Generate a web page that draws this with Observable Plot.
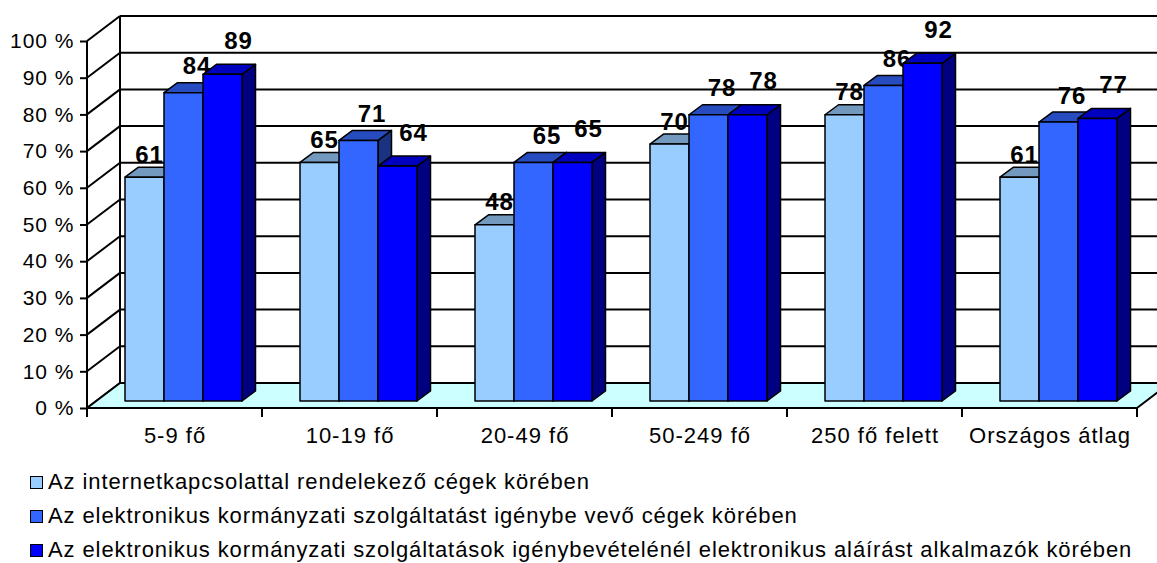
<!DOCTYPE html>
<html>
<head>
<meta charset="utf-8">
<script src="https://cdn.jsdelivr.net/npm/d3@7"></script>
<script src="https://cdn.jsdelivr.net/npm/@observablehq/plot@0.6"></script>
<style>
  html, body { margin: 0; padding: 0; background: #fff; }
  #chart { position: relative; width: 1157px; height: 563px; font-family: "Liberation Sans", Arial, sans-serif; color: #000; }
  #chart svg { display: block; }
  #chart svg text { letter-spacing: 1px; }
  .legend { position: absolute; left: 30px; top: 465px; font-size: 22px; letter-spacing: 0.9px; line-height: 34px; white-space: nowrap; }
  .legend .sw { display: inline-block; width: 11px; height: 11px; border: 1.5px solid #000; margin-right: 5px; }
</style>
</head>
<body>
<div id="chart"></div>
<script>
// ---- data ----
const categories = ["5-9 fő", "10-19 fő", "20-49 fő", "50-249 fő", "250 fő felett", "Országos átlag"];
const seriesNames = [
  "Az internetkapcsolattal rendelekező cégek körében",
  "Az elektronikus kormányzati szolgáltatást igénybe vevő cégek körében",
  "Az elektronikus kormányzati szolgáltatások igénybevételénél elektronikus aláírást alkalmazók körében"
];
const internetValues = [61, 65, 48, 70, 78, 61];
const egovValues = [84, 71, 65, 78, 86, 76];
const esignValues = [89, 64, 65, 78, 92, 77];
const yTicks = [0, 10, 20, 30, 40, 50, 60, 70, 80, 90, 100];

// ---- styles ----
const seriesValues = [internetValues, egovValues, esignValues];
const frontColors = ["#99CCFF", "#3366FF", "#0000FF"];
const topColors = ["#7399BF", "#264CBF", "#0000BF"];
const sideColors = ["#4C667F", "#1A3380", "#000080"];
const FONT = '"Liberation Sans", Arial, sans-serif';

// 3D geometry (pixel offsets)
const DX = 33, DY = -25;      // full depth of the floor / walls
const PX = 9, PY = -7;        // bar front plane
const TX = 13.5, TY = -10;    // bar depth
const INSET = 29, BARW = 39;  // bar placement inside a category band
const labelDx = [4.5, 13, 15.5];
const labelAbove = [15, 19, 26];

const rows = [];
seriesValues.forEach((vals, s) => vals.forEach((v, c) => rows.push({s, cat: categories[c], value: v})));

function background(index, {x, y}) {
  const g = d3.create("svg:g").attr("fill", "none").attr("stroke", "#000");
  const bw = x(categories[1]) - x(categories[0]);
  const x0 = x(categories[0]);
  const x1 = x(categories[categories.length - 1]) + bw;
  const y0 = y(0);
  // back wall fill
  g.append("rect").attr("x", x0 + DX).attr("y", y(100) + DY).attr("width", x1 - x0).attr("height", y0 - y(100))
    .attr("fill", "#fff").attr("stroke", "none");
  // back gridlines
  for (const t of yTicks) {
    g.append("line").attr("x1", x0 + DX).attr("x2", x1 + DX + 40)
      .attr("y1", y(t) + DY).attr("y2", y(t) + DY).attr("stroke-width", 2);
  }
  // back wall left edge
  g.append("line").attr("x1", x0 + DX).attr("x2", x0 + DX).attr("y1", y(100) + DY).attr("y2", y0 + DY).attr("stroke-width", 2);
  // side wall diagonals
  for (const t of yTicks) {
    g.append("line").attr("x1", x0).attr("y1", y(t)).attr("x2", x0 + DX).attr("y2", y(t) + DY).attr("stroke-width", 2);
  }
  // floor
  g.append("path").attr("d", `M${x0},${y0}L${x1},${y0}L${x1 + DX},${y0 + DY}L${x0 + DX},${y0 + DY}Z`)
    .attr("fill", "#CCFFFF").attr("stroke-width", 2).attr("stroke-linejoin", "round");
  // front value axis line
  g.append("line").attr("x1", x0).attr("x2", x0).attr("y1", y(100)).attr("y2", y0 + 9).attr("stroke-width", 2);
  // category boundary ticks
  for (let k = 1; k <= categories.length; k++) {
    const xx = x0 + k * bw;
    g.append("line").attr("x1", xx).attr("x2", xx).attr("y1", y0).attr("y2", y0 + 9).attr("stroke-width", 2);
  }
  return g.node();
}

function bars(s) {
  return (index, {x, y}) => {
    const g = d3.create("svg:g").attr("stroke", "#000").attr("stroke-width", 1.5).attr("stroke-linejoin", "round");
    seriesValues[s].forEach((v, c) => {
      const left = x(categories[c]) + PX + INSET + s * BARW;
      const right = left + BARW;
      const top = y(v) + PY;
      const bottom = y(0) + PY;
      g.append("path").attr("fill", sideColors[s])
        .attr("d", `M${right},${top}L${right + TX},${top + TY}L${right + TX},${bottom + TY}L${right},${bottom}Z`);
      g.append("path").attr("fill", topColors[s])
        .attr("d", `M${left},${top}L${right},${top}L${right + TX},${top + TY}L${left + TX},${top + TY}Z`);
      g.append("rect").attr("fill", frontColors[s])
        .attr("x", left).attr("y", top).attr("width", BARW).attr("height", bottom - top);
    });
    return g.node();
  };
}

const marks = [background];
for (let s = 0; s < 3; s++) {
  marks.push(bars(s));
  marks.push(Plot.text(rows.filter(d => d.s === s), {
    x: "cat", y: "value", text: d => String(d.value),
    dx: -30 + BARW * s + labelDx[s], dy: PY - labelAbove[s],
    lineAnchor: "bottom", textAnchor: "middle",
    fontSize: 24, fontWeight: "bold", fill: "#000"
  }));
}
marks.push(Plot.axisY(yTicks, {
  tickFormat: d => `${d} %`, tickSize: 7, tickPadding: 6, fontSize: 21,
  strokeWidth: 2, label: null
}));
marks.push(Plot.axisX({tickSize: 0, tickPadding: 19, fontSize: 22, label: null}));

const chart = Plot.plot({
  width: 1157,
  height: 465,
  marginLeft: 87,
  marginRight: 20,
  marginTop: 41,
  marginBottom: 57,
  style: {fontFamily: FONT, background: "#fff", color: "#000", overflow: "hidden"},
  x: {type: "band", domain: categories, padding: 0, round: false, axis: null},
  y: {domain: [0, 100], axis: null},
  marks
});

const root = document.getElementById("chart");
root.appendChild(chart);

const legend = document.createElement("div");
legend.className = "legend";
seriesNames.forEach((name, s) => {
  const row = document.createElement("div");
  const sw = document.createElement("span");
  sw.className = "sw";
  sw.style.background = frontColors[s];
  row.appendChild(sw);
  row.appendChild(document.createTextNode(name));
  legend.appendChild(row);
});
root.appendChild(legend);
</script>
</body>
</html>
